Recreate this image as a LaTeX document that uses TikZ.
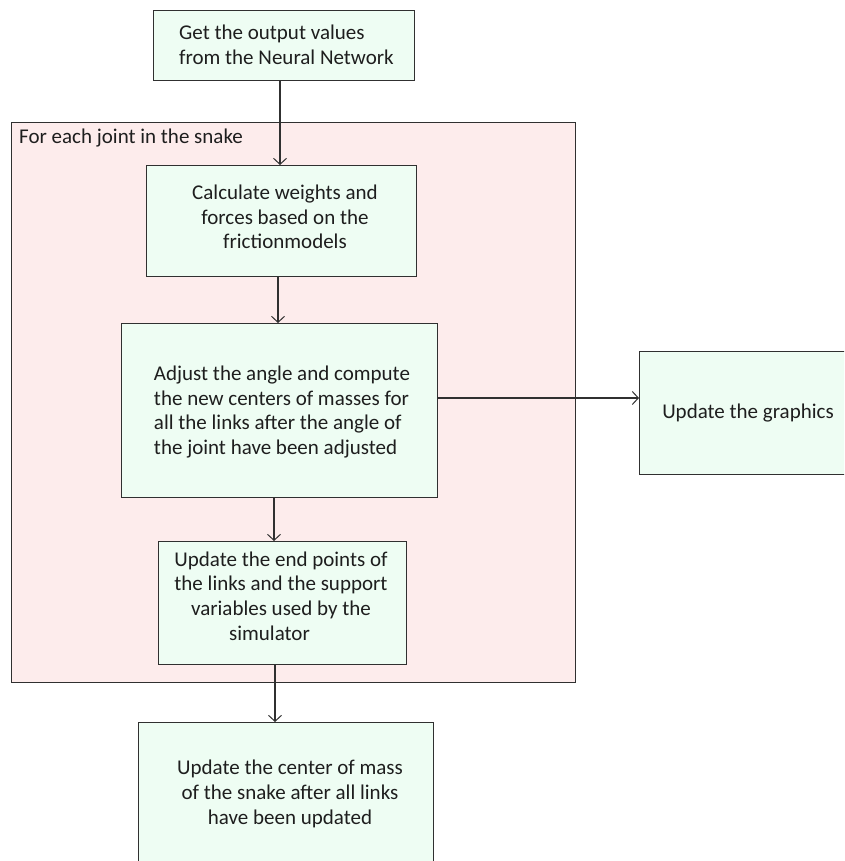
\documentclass[tikz,border=0pt]{standalone}
\usepackage{fontspec}
\setmainfont{Carlito}
\usetikzlibrary{arrows.meta}
\definecolor{stepfill}{HTML}{EEFDF3}
\definecolor{loopfill}{HTML}{FDECEC}
\definecolor{edge}{HTML}{303030}
\definecolor{txt}{HTML}{1E1E1E}
\tikzset{
  every picture/.style={x=1pt,y=-1pt},
  stepbox/.style={draw=edge,line width=1.1pt,fill=stepfill,inner sep=0pt},
  loopbox/.style={draw=edge,line width=1.1pt,fill=loopfill,inner sep=0pt},
  label text/.style={text=txt,inner sep=0pt,font=\fontsize{21}{24.7}\selectfont},
  flow/.style={draw=edge,line width=1.1pt,-{Straight Barb[length=6pt,width=13pt,line width=1pt]}}
}
\begin{document}
\begin{tikzpicture}
\useasboundingbox (0,0) rectangle (844,861);
\clip (0,0) rectangle (844,861);
% loop frame
\node[loopbox,anchor=north west,minimum width=564pt,minimum height=560pt] (loop) at (11,122) {};
\node[label text,anchor=west] (looplbl) at (19,138) {For each joint in the snake};
% step boxes
\node[stepbox,anchor=north west,minimum width=261pt,minimum height=70pt] (get) at (153,10) {};
\node[stepbox,anchor=north west,minimum width=270pt,minimum height=111pt] (calc) at (146,165) {};
\node[stepbox,anchor=north west,minimum width=316pt,minimum height=174pt] (adjust) at (121,323) {};
\node[stepbox,anchor=north west,minimum width=248pt,minimum height=123pt] (ends) at (158,541) {};
\node[stepbox,anchor=north west,minimum width=230pt,minimum height=123pt] (gfx) at (639,351) {};
\node[stepbox,anchor=north west,minimum width=295pt,minimum height=160pt] (com) at (138,722) {};
% texts
\node[label text,align=left,anchor=west] (gettxt) at (179,44.5) {Get the output values\\from the Neural Network};
\node[label text,align=center] (calctxt) at (285,217) {Calculate weights and\\forces based on the\\frictionmodels};
\node[label text,align=left] (adjusttxt) at (282,412) {Adjust the angle and compute\\the new centers of masses for\\all the links after the angle of\\the joint have been adjusted};
\node[label text,align=center] (endstxt) at (281,596) {Update the end points of\\the links and the support\\variables used by the\hspace*{7pt}\\simulator\hspace*{23pt}};
\node[label text] (gfxtxt) at (748,413) {Update the graphics};
\node[label text,align=center] (comtxt) at (290,794) {Update the center of mass\\of the snake after all links\\have been updated};
% connectors
\draw[flow] (get.south -| 280,0) -- (calc.north -| 280,0);
\draw[flow] (calc.south -| 278,0) -- (adjust.north -| 278,0);
\draw[flow] (adjust.south -| 274,0) -- (ends.north -| 274,0);
\draw[flow] (ends.south -| 275,0) -- (com.north -| 275,0);
\draw[flow] (adjust.east |- 0,398) -- (gfx.west |- 0,398);
\end{tikzpicture}
\end{document}
